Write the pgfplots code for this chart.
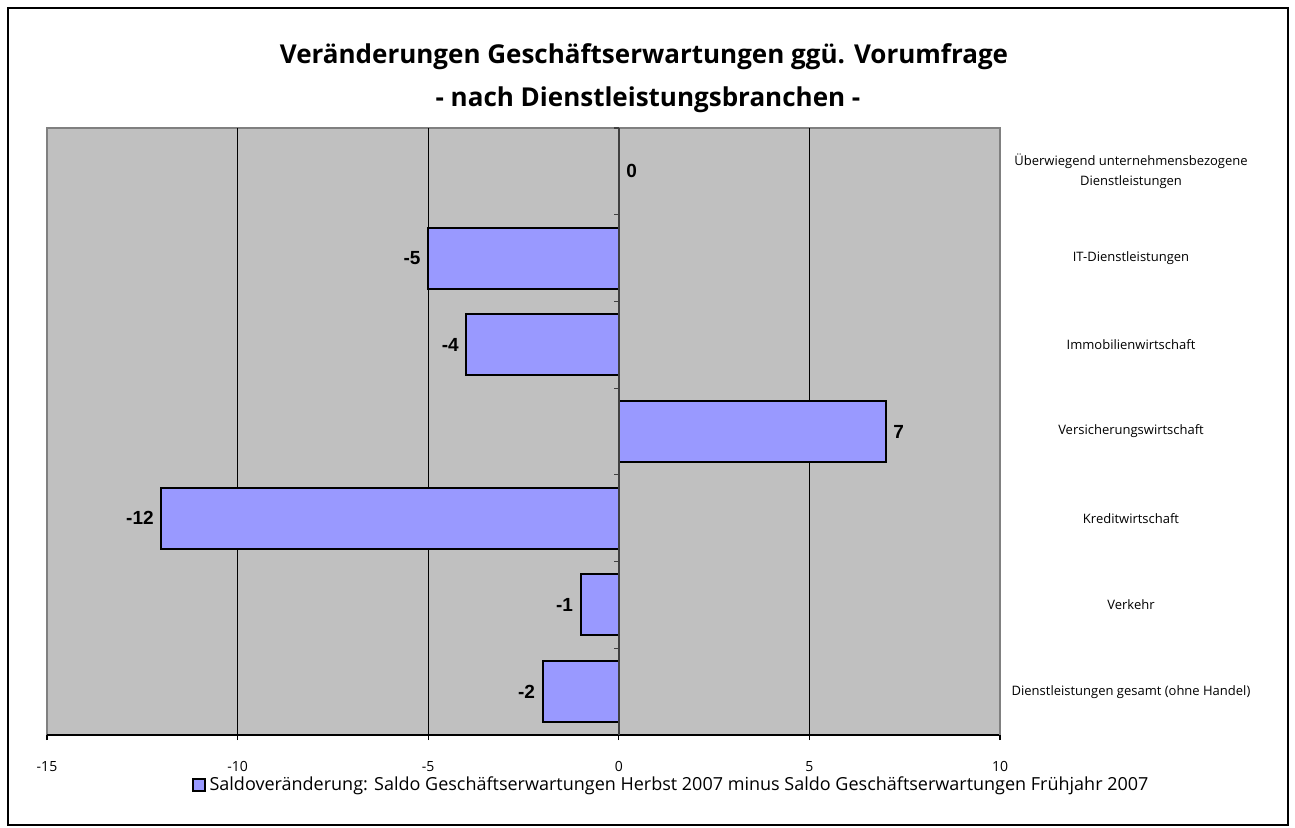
\documentclass[border=0pt]{standalone}
\usepackage{fontspec}
\setmainfont{Open Sans}
\newfontfamily\arialfont{Liberation Sans}
\usepackage{pgfplots}
\pgfplotsset{compat=1.18}
\pgfplotsset{/pgf/number format/assume math mode=true}
\definecolor{plotgray}{HTML}{C0C0C0}
\definecolor{bordergray}{HTML}{808080}
\definecolor{barblue}{HTML}{9999FF}
\begin{document}
\begin{tikzpicture}[x=0.5pt,y=0.5pt]
\begin{axis}[
  scale only axis, width=476.5pt, height=303.5pt,
  xbar, bar width=30.5pt,
  xmin=-15, xmax=10, ymin=0.5, ymax=7.5,
  clip=false,
  axis background/.style={fill=plotgray, draw=bordergray, line width=1pt},
  axis x line*=bottom, axis y line*=right,
  x axis line style={black, line width=0.8pt, -},
  y axis line style={bordergray, line width=1pt, -},
  xtick={-15,-10,...,10},
  xtick align=outside, major tick length=2.5pt,
  x tick style={black, line width=0.6pt},
  extra x ticks={-10,-5,5}, extra x tick labels={},
  extra x tick style={grid=major, major tick length=0pt},
  major grid style={black, line width=0.5pt},
  ytick={1,...,7}, y tick style={draw=none},
  yticklabels={{Dienstleistungen gesamt (ohne Handel)},{Verkehr},{Kreditwirtschaft},{Versicherungswirtschaft},{Immobilienwirtschaft},{IT-Dienstleistungen},{Überwiegend unternehmensbezogene\\Dienstleistungen}},
  yticklabel style={anchor=center, align=center, xshift=63pt, font=\fontsize{6.5}{10}\selectfont},
  xticklabel style={font=\fontsize{7}{8}\selectfont, yshift=-7pt},
  nodes near coords, nodes near coords align=horizontal,
  every node near coord/.append style={font=\arialfont\bfseries\fontsize{9.5}{11}\selectfont, black},
  legend style={at={(0.656,-0.0824)}, anchor=center, draw=none, fill=none, font=\fontsize{9}{11}\selectfont, inner sep=0pt},
  legend image code/.code={\draw[fill=barblue,draw=black,line width=0.8pt] (0pt,-3pt) rectangle (6pt,3pt);},
]
\addplot[fill=barblue, draw=black, line width=1pt] coordinates {(-2,1) (-1,2) (-12,3) (7,4) (-4,5) (-5,6) (0,7)};
\addlegendentry{Saldoveränderung: Saldo Geschäftserwartungen Herbst 2007 minus Saldo Geschäftserwartungen Frühjahr 2007}
\draw[black!75, line width=1pt] (axis cs:0,0.5) -- (axis cs:0,7.5);
\draw[black!75, line width=0.6pt] (axis cs:0,1.5) -- ++(-2.5pt,0pt);
\draw[black!75, line width=0.6pt] (axis cs:0,2.5) -- ++(-2.5pt,0pt);
\draw[black!75, line width=0.6pt] (axis cs:0,3.5) -- ++(-2.5pt,0pt);
\draw[black!75, line width=0.6pt] (axis cs:0,4.5) -- ++(-2.5pt,0pt);
\draw[black!75, line width=0.6pt] (axis cs:0,5.5) -- ++(-2.5pt,0pt);
\draw[black!75, line width=0.6pt] (axis cs:0,6.5) -- ++(-2.5pt,0pt);
\draw[black!75, line width=0.6pt] (axis cs:0,7.5) -- ++(-2.5pt,0pt);
\coordinate (sw) at (rel axis cs:0,0);
\end{axis}
\pgfresetboundingbox
\useasboundingbox ([shift={(-47,-92)}]sw) rectangle ([shift={(1248,735)}]sw);
\draw[black, line width=1pt] ([shift={(-39,-90)}]sw) rectangle ([shift={(1241,727)}]sw);
\node[font=\bfseries\fontsize{13}{15}\selectfont] at ([shift={(597,678)}]sw) {Veränderungen Geschäftserwartungen ggü. Vorumfrage};
\node[font=\bfseries\fontsize{13}{15}\selectfont] at ([shift={(601,635)}]sw) {- nach Dienstleistungsbranchen -};
\end{tikzpicture}
\end{document}
